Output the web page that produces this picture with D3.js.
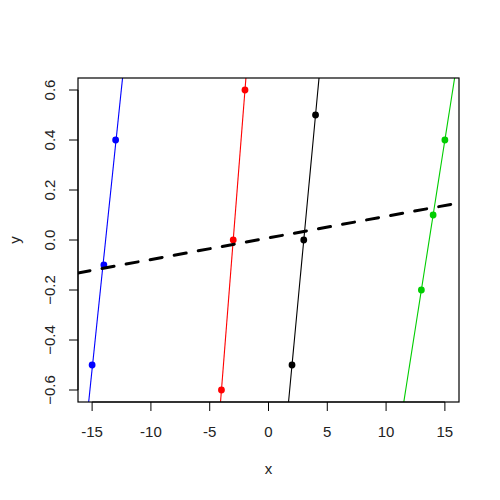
<!DOCTYPE html>
<html>
<head>
<meta charset="utf-8">
<script src="https://cdn.jsdelivr.net/npm/d3@7"></script>
<style>
  body { margin: 0; background: #fff; }
  text { font-family: "Liberation Sans", Arial, sans-serif; }
</style>
</head>
<body>
<div id="chart"></div>
<script>
// four groups of three points each
var groups = ["g1", "g2", "g3", "g4"];
var groupColors = ["#0000FF", "#FF0000", "#000000", "#00CD00"];
var xValues = [
  [-15, -14, -13],
  [-4, -3, -2],
  [2, 3, 4],
  [13, 14, 15]
];
var yValues = [
  [-0.5, -0.1, 0.4],
  [-0.6, 0.0, 0.6],
  [-0.5, 0.0, 0.5],
  [-0.2, 0.1, 0.4]
];
var xTicks = [-15, -10, -5, 0, 5, 10, 15];
var yTicks = [-0.6, -0.4, -0.2, 0.0, 0.2, 0.4, 0.6];

var margin = { top: 78, right: 41, bottom: 98, left: 78 },
    width = 500 - margin.left - margin.right,
    height = 500 - margin.top - margin.bottom;

// least squares fit, like lm(y ~ x)
function fit(xs, ys) {
  var mx = d3.mean(xs), my = d3.mean(ys);
  var sxy = d3.sum(xs, function (d, i) { return (d - mx) * (ys[i] - my); });
  var sxx = d3.sum(xs, function (d) { return (d - mx) * (d - mx); });
  var b = sxy / sxx;
  return { a: my - b * mx, b: b };
}

var allX = d3.merge(xValues), allY = d3.merge(yValues);
var xExt = d3.extent(allX), yExt = d3.extent(allY);
var xPad = (xExt[1] - xExt[0]) * 0.04, yPad = (yExt[1] - yExt[0]) * 0.04;

var x = d3.scaleLinear().domain([xExt[0] - xPad, xExt[1] + xPad]).range([0, width]);
var y = d3.scaleLinear().domain([yExt[0] - yPad, yExt[1] + yPad]).range([height, 0]);

var svg = d3.select("#chart")
    .append("svg")
    .attr("width", 500)
    .attr("height", 500)
    .append("g")
    .attr("transform", "translate(" + margin.left + "," + margin.top + ")");

svg.append("clipPath").attr("id", "clip")
    .append("rect").attr("width", width).attr("height", height);

var plot = svg.append("g").attr("clip-path", "url(#clip)");

// points
groups.forEach(function (g, gi) {
  plot.selectAll(".pt" + gi)
    .data(xValues[gi])
    .enter()
    .append("circle")
    .attr("cx", function (d) { return x(d); })
    .attr("cy", function (d, i) { return y(yValues[gi][i]); })
    .attr("r", 3.4)
    .style("fill", groupColors[gi]);
});

// per-group regression lines
var xd = x.domain();
groups.forEach(function (g, gi) {
  var f = fit(xValues[gi], yValues[gi]);
  plot.append("line")
    .attr("x1", x(xd[0]))
    .attr("y1", y(f.a + f.b * xd[0]))
    .attr("x2", x(xd[1]))
    .attr("y2", y(f.a + f.b * xd[1]))
    .style("stroke", groupColors[gi])
    .style("stroke-width", 1.1);
});

// pooled regression line, dashed
var pooled = fit(allX, allY);
plot.append("line")
    .attr("x1", x(xd[0]))
    .attr("y1", y(pooled.a + pooled.b * xd[0]))
    .attr("x2", x(xd[1]))
    .attr("y2", y(pooled.a + pooled.b * xd[1]))
    .style("stroke", "#000")
    .style("stroke-width", 3)
    .style("stroke-dasharray", "12.2,12.25")
    .style("stroke-linecap", "round");

// box
svg.append("rect")
    .attr("width", width)
    .attr("height", height)
    .style("fill", "none")
    .style("stroke", "#000")
    .style("stroke-width", 1.2);

// x axis
var xAxis = svg.append("g").attr("transform", "translate(0," + height + ")");
xAxis.append("line")
    .attr("x1", x(xTicks[0])).attr("x2", x(xTicks[xTicks.length - 1]))
    .style("stroke", "#000");
xAxis.selectAll("line.tick")
    .data(xTicks).enter().append("line")
    .attr("class", "tick")
    .attr("x1", function (d) { return x(d); })
    .attr("x2", function (d) { return x(d); })
    .attr("y1", 0).attr("y2", 9)
    .style("stroke", "#000");
xAxis.selectAll("text")
    .data(xTicks).enter().append("text")
    .attr("x", function (d) { return x(d); })
    .attr("y", 34.5)
    .attr("text-anchor", "middle")
    .style("font-size", "15px")
    .style("fill", "#222")
    .text(function (d) { return d; });

// y axis
var yAxis = svg.append("g");
yAxis.append("line")
    .attr("y1", y(yTicks[0])).attr("y2", y(yTicks[yTicks.length - 1]))
    .style("stroke", "#000");
yAxis.selectAll("line.tick")
    .data(yTicks).enter().append("line")
    .attr("class", "tick")
    .attr("y1", function (d) { return y(d); })
    .attr("y2", function (d) { return y(d); })
    .attr("x1", 0).attr("x2", -9)
    .style("stroke", "#000");
yAxis.selectAll("text")
    .data(yTicks).enter().append("text")
    .attr("transform", function (d) { return "translate(-23.5," + y(d) + ") rotate(-90)"; })
    .attr("text-anchor", "middle")
    .style("font-size", "15px")
    .style("fill", "#222")
    .text(function (d) { return d3.format(".1f")(d); });

// axis titles
svg.append("text")
    .attr("x", width / 2)
    .attr("y", 474 - margin.top)
    .attr("text-anchor", "middle")
    .style("font-size", "15px")
    .style("fill", "#222")
    .text("x");

svg.append("text")
    .attr("transform", "translate(" + (20 - margin.left) + "," + (height / 2) + ") rotate(-90)")
    .attr("text-anchor", "middle")
    .style("font-size", "15px")
    .style("fill", "#222")
    .text("y");
</script>
</body>
</html>
